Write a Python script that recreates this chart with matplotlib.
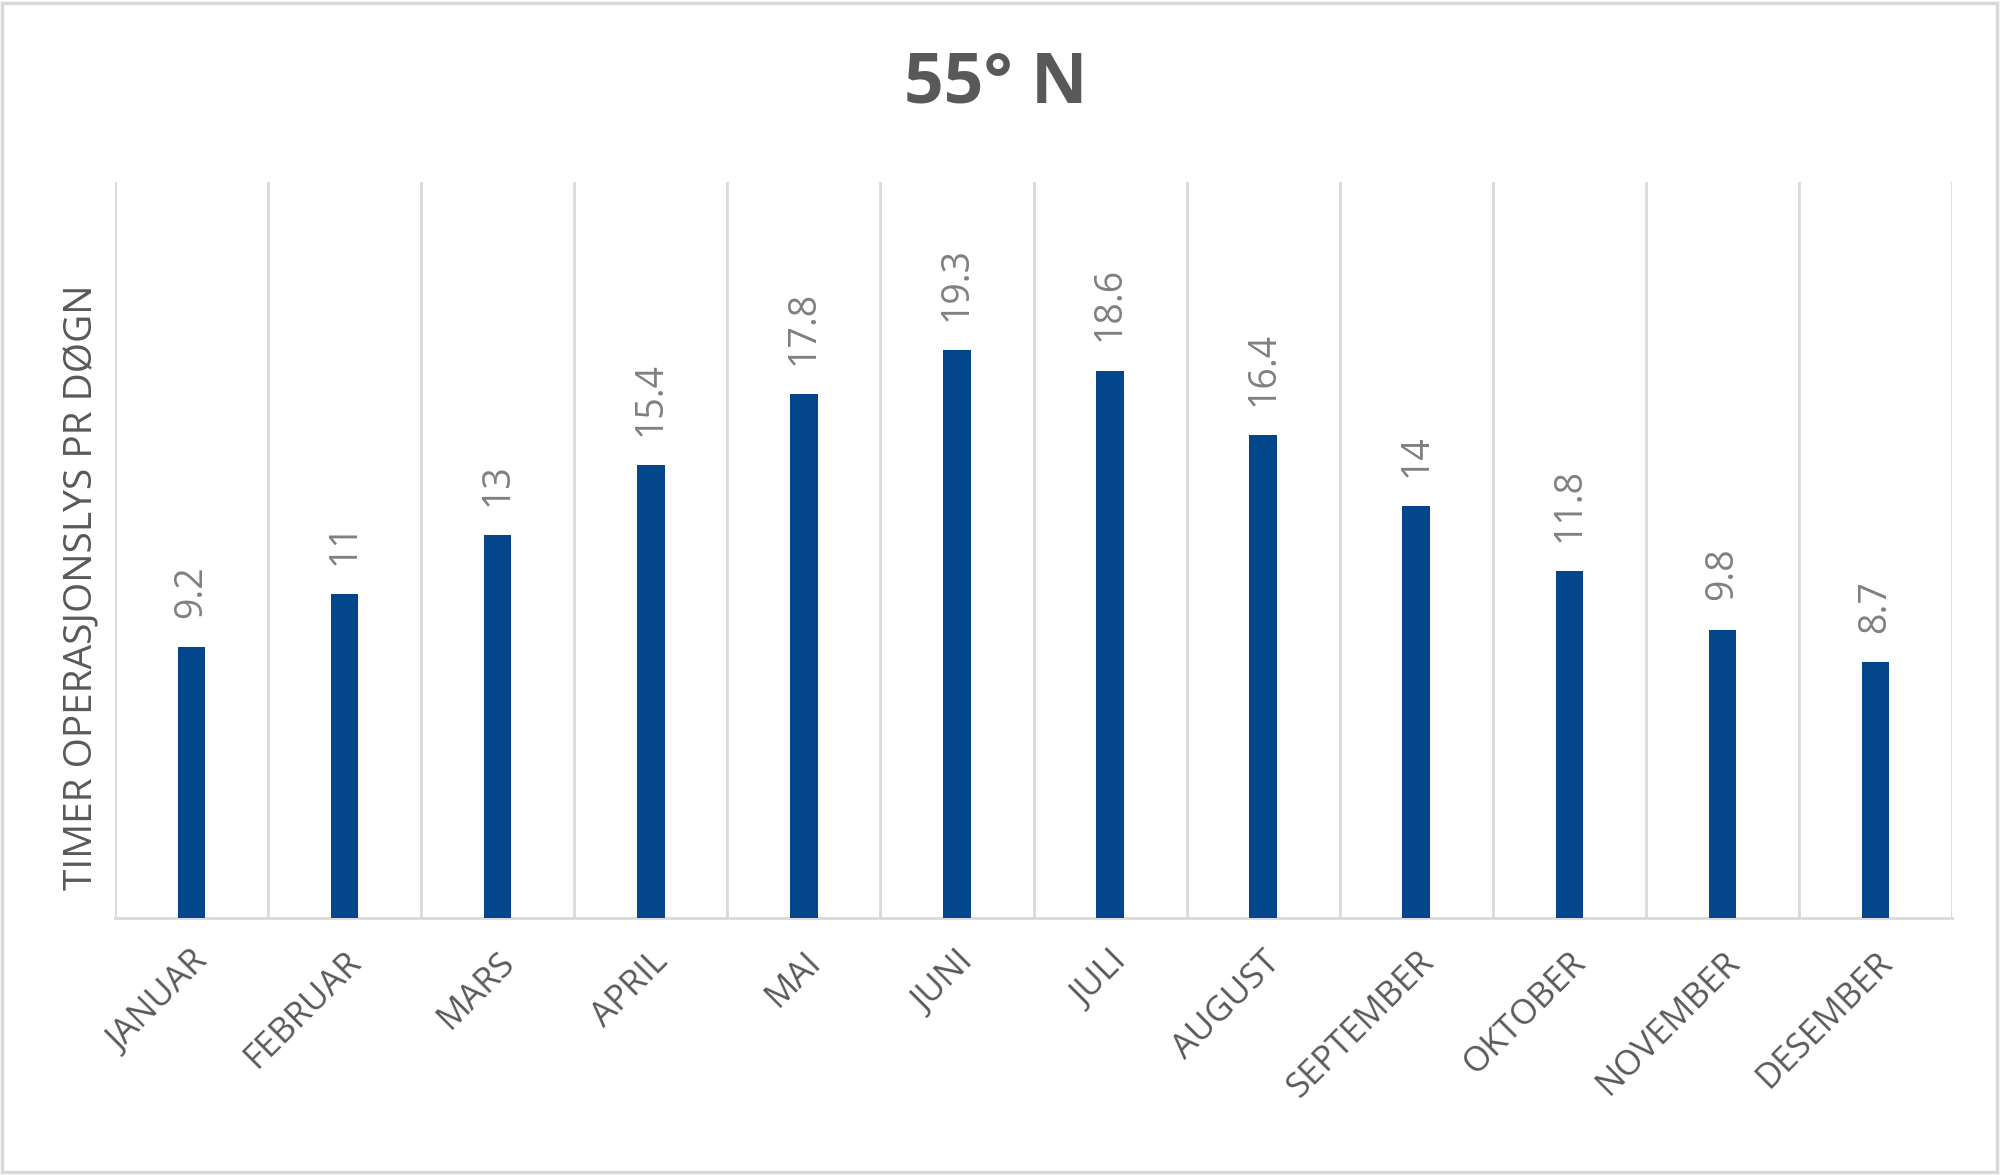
import matplotlib
matplotlib.use("Agg")
import matplotlib.pyplot as plt
from matplotlib import patches
from matplotlib.transforms import ScaledTranslation
import numpy as np

# data
months = ["JANUAR", "FEBRUAR", "MARS", "APRIL", "MAI", "JUNI",
          "JULI", "AUGUST", "SEPTEMBER", "OKTOBER", "NOVEMBER", "DESEMBER"]
hours = [9.2, 11, 13, 15.4, 17.8, 19.3, 18.6, 16.4, 14, 11.8, 9.8, 8.7]
value_labels = ["9.2", "11", "13", "15.4", "17.8", "19.3",
                "18.6", "16.4", "14", "11.8", "9.8", "8.7"]

title = "55° N"
ylabel = "TIMER OPERASJONSLYS PR DØGN"

bar_color = "#03468C"
grid_color = "#d9d9d9"
text_dark = "#595959"
text_light = "#808080"

plt.rcParams['font.family'] = ['Open Sans', 'DejaVu Sans']

fig = plt.figure(figsize=(20, 11.75), dpi=100)
ax = fig.add_axes([0.0575, 0.2187, 0.9185, 0.6263])

x = np.arange(len(months))
ax.bar(x, hours, width=0.18, color=bar_color, zorder=3)

ax.set_xlim(-0.5, len(months) - 0.5)
ax.set_ylim(0, 25)

# vertical gridlines at category borders
for b in np.arange(-0.5, len(months), 1.0):
    ax.axvline(b, color=grid_color, lw=2, zorder=1)

for s in ["top", "right", "left"]:
    ax.spines[s].set_visible(False)
ax.spines["bottom"].set_color(grid_color)
ax.spines["bottom"].set_linewidth(2)
ax.set_yticks([])

# value labels above bars
for xi, v, lab in zip(x, hours, value_labels):
    ax.annotate(lab, xy=(xi, v), xytext=(0, 21), textcoords="offset points",
                rotation=90, ha="center", va="bottom",
                fontsize=27, color=text_light)

ax.set_xticks(x)
ax.set_xticklabels(months, rotation=45, ha="right", va="center",
                   rotation_mode="anchor", fontsize=25, color=text_dark)
ax.tick_params(axis="x", length=0, pad=28)
offset = ScaledTranslation(0.12, 0, fig.dpi_scale_trans)
for lbl in ax.get_xticklabels():
    lbl.set_transform(lbl.get_transform() + offset)

fig.text(0.498, 0.9285, title, ha="center", va="center",
         fontsize=50, fontweight="bold", color=text_dark)

fig.text(0.041, 0.5, ylabel, rotation=90, ha="center", va="center",
         fontsize=28, color=text_dark)

# outer chart border
fig.patches.append(patches.Rectangle((0.0012, 0.0022), 0.9974, 0.995,
                                     transform=fig.transFigure, fill=False,
                                     ec=grid_color, lw=2.5))

fig.savefig("out.png", dpi=100, facecolor="white")
